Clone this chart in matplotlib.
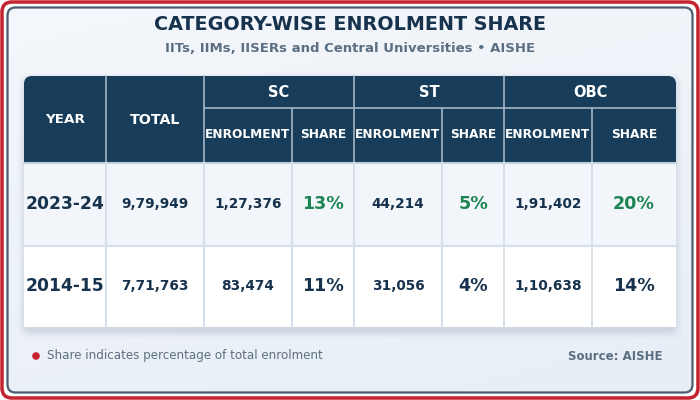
import numpy as np
import matplotlib.pyplot as plt
from matplotlib.patches import FancyBboxPatch, Rectangle, Circle
from matplotlib.colors import LinearSegmentedColormap

# data
years = ["2023-24", "2014-15"]
totals = ["9,79,949", "7,71,763"]
groups = ["SC", "ST", "OBC"]
enrolment = [["1,27,376", "44,214", "1,91,402"],
             ["83,474", "31,056", "1,10,638"]]
share = [["13%", "5%", "20%"],
         ["11%", "4%", "14%"]]

title = "CATEGORY-WISE ENROLMENT SHARE"
subtitle = "IITs, IIMs, IISERs and Central Universities \u2022 AISHE"
note = "Share indicates percentage of total enrolment"
source = "Source: AISHE"

# colours
HEAD = "#173d5a"
DARK = "#17324d"
GREEN = "#1c8452"
HEAD_LINE = "#a3b4c4"
BODY_LINE = "#d6e0e9"
ROW_BG = ["#f2f6fa", "#ffffff"]

plt.rcParams['font.family'] = ['DejaVu Sans']

fig = plt.figure(figsize=(7, 4), dpi=100)
ax = fig.add_axes([0, 0, 1, 1])
ax.set_xlim(0, 700)
ax.set_ylim(400, 0)
ax.axis('off')

# frame: red outer border, dark inner border, gradient panel
outer = FancyBboxPatch((2, 2), 696, 396, boxstyle="round,pad=0,rounding_size=10",
                       fc="white", ec="#c4222e", lw=2.5, zorder=0)
ax.add_patch(outer)
inner = FancyBboxPatch((7.5, 7.5), 685, 385, boxstyle="round,pad=0,rounding_size=8",
                       fc="none", ec="#4b5d6e", lw=1.6, zorder=3)
ax.add_patch(inner)
grad = np.linspace(0, 1, 256).reshape(-1, 1) * 0.7 + np.linspace(0, 1, 256).reshape(1, -1) * 0.3
cmap = LinearSegmentedColormap.from_list("bg", ["#f4f7fb", "#e7eef6"])
im = ax.imshow(grad, extent=(7.5, 692.5, 392.5, 7.5), cmap=cmap, aspect='auto',
               zorder=1, origin='upper')
clip = FancyBboxPatch((7.5, 7.5), 685, 385, boxstyle="round,pad=0,rounding_size=8",
                      fc="none", ec="none", transform=ax.transData)
ax.add_patch(clip)
im.set_clip_path(clip)

ax.text(350, 25, title, ha='center', va='center', fontsize=13.8, fontweight='bold',
        color=DARK, zorder=5)
ax.text(350, 48, subtitle, ha='center', va='center', fontsize=9.5, fontweight='bold',
        color="#5b6f82", zorder=5)

# table geometry
xs = [24, 106, 204, 292, 354, 442, 504, 592, 676]
y_top, y_mid, y_head, y_row, y_bot = 76, 107.5, 163, 245.5, 327

# shadow
for i, a in enumerate([0.05, 0.04, 0.03, 0.02]):
    d = 2 + i * 2
    ax.add_patch(FancyBboxPatch((xs[0] - d + 2, y_top - d + 5), xs[-1] - xs[0] + 2 * d - 4,
                                y_bot - y_top + 2 * d - 2,
                                boxstyle="round,pad=0,rounding_size=10",
                                fc="#2a4a6a", ec="none", alpha=a, zorder=2))

ax.add_patch(FancyBboxPatch((xs[0], y_top), xs[-1] - xs[0], y_bot - y_top,
                            boxstyle="round,pad=0,rounding_size=8",
                            fc=HEAD, ec="none", zorder=4))
for r in range(2):
    y0 = y_head if r == 0 else y_row
    y1 = y_row if r == 0 else y_bot
    ax.add_patch(Rectangle((xs[0], y0), xs[-1] - xs[0], y1 - y0, fc=ROW_BG[r],
                           ec="none", zorder=4))

# header lines
for x in xs[1:-1]:
    if x in (292, 442, 592):
        ax.plot([x, x], [y_mid, y_head], color=HEAD_LINE, lw=1.2, zorder=6)
    else:
        ax.plot([x, x], [y_top, y_head], color=HEAD_LINE, lw=1.2, zorder=6)
ax.plot([xs[2], xs[-1]], [y_mid, y_mid], color=HEAD_LINE, lw=1.2, zorder=6)
ax.plot([xs[0], xs[-1]], [y_head, y_head], color="#c3d0dc", lw=1.5, zorder=6)

# body lines
for x in xs[1:-1]:
    ax.plot([x, x], [y_head, y_bot], color=BODY_LINE, lw=1.4, zorder=6)
ax.plot([xs[0], xs[-1]], [y_row, y_row], color=BODY_LINE, lw=1.6, zorder=6)

# header texts
hc = (y_top + y_head) / 2
ax.text((xs[0] + xs[1]) / 2, hc, "YEAR", ha='center', va='center', fontsize=9.7,
        fontweight='bold', color='white', zorder=7)
ax.text((xs[1] + xs[2]) / 2, hc, "TOTAL", ha='center', va='center', fontsize=10.2,
        fontweight='bold', color='white', zorder=7)
for g, name in enumerate(groups):
    xa, xb, xc = xs[2 + 2 * g], xs[3 + 2 * g], xs[4 + 2 * g]
    ax.text((xa + xc) / 2, (y_top + y_mid) / 2 + 1, name, ha='center', va='center',
            fontsize=10.5, fontweight='bold', color='white', zorder=7)
    ax.text((xa + xb) / 2, (y_mid + y_head) / 2 - 1, "ENROLMENT", ha='center',
            va='center', fontsize=8.7, fontweight='bold', color='white', zorder=7)
    ax.text((xb + xc) / 2, (y_mid + y_head) / 2 - 1, "SHARE", ha='center',
            va='center', fontsize=8.8, fontweight='bold', color='white', zorder=7)

# body texts
for r in range(len(years)):
    yc = (y_head + y_row) / 2 if r == 0 else (y_row + y_bot) / 2
    ax.text((xs[0] + xs[1]) / 2, yc, years[r], ha='center', va='center', fontsize=12.3,
            fontweight='bold', color=DARK, zorder=7)
    ax.text((xs[1] + xs[2]) / 2, yc, totals[r], ha='center', va='center', fontsize=9.8,
            fontweight='bold', color=DARK, zorder=7)
    for g in range(len(groups)):
        xa, xb, xc = xs[2 + 2 * g], xs[3 + 2 * g], xs[4 + 2 * g]
        ax.text((xa + xb) / 2, yc, enrolment[r][g], ha='center', va='center',
                fontsize=9.8, fontweight='bold', color=DARK, zorder=7)
        ax.text((xb + xc) / 2, yc, share[r][g], ha='center', va='center',
                fontsize=12.6, fontweight='bold', color=GREEN if r == 0 else DARK,
                zorder=7)

# footer
ax.add_patch(Circle((36, 356), 3.8, fc="#c4222e", ec="none", zorder=7))
ax.text(47, 356, note, ha='left', va='center', fontsize=8.55, color="#5f6f80", zorder=7)
ax.text(663, 356, source, ha='right', va='center', fontsize=8.5, fontweight='bold',
        color="#5b6f82", zorder=7)

fig.savefig("out.png", dpi=100)
